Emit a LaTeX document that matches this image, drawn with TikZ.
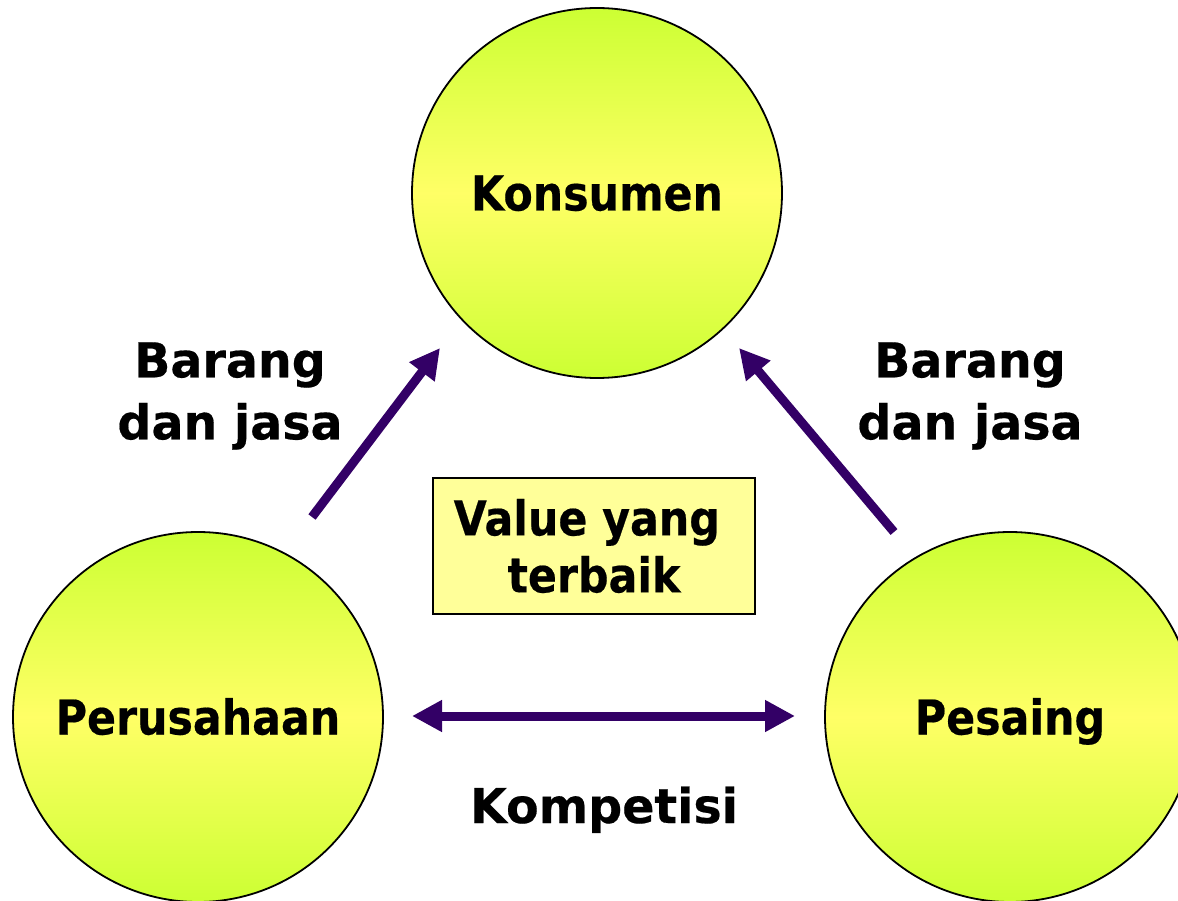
\documentclass[tikz,border=0pt]{standalone}
\usepackage{fontspec}
\setmainfont{DejaVu Sans}
\newfontfamily\condfont{DejaVu Sans}[FakeStretch=0.89, BoldFeatures={FakeBold=0.4}]
\newfontfamily\widefont{DejaVu Sans}[FakeStretch=0.99, BoldFeatures={FakeBold=0.4}]
\usetikzlibrary{arrows.meta}
\definecolor{arrowpurple}{HTML}{330066}
\definecolor{circgreen}{HTML}{CCFF33}
\definecolor{circyellow}{HTML}{FFFF66}
\definecolor{boxyellow}{HTML}{FFFF99}
\begin{document}
\begin{tikzpicture}[x=1pt,y=-1pt,
  bigcirc/.style={circle, draw=black, line width=1.8pt, minimum size=370pt, inner sep=0pt,
    top color=circgreen, bottom color=circgreen, middle color=circyellow,
    text height=35pt, text depth=0pt,
    font=\condfont\fontsize{48}{52}\selectfont\bfseries},
  lbl/.style={font=\widefont\fontsize{48}{62}\selectfont\bfseries, align=center, inner sep=0pt},
  conn/.style={draw=arrowpurple, line width=9pt},
  tip/.style={-{Triangle[length=30pt,width=30pt]}},
  tips/.style={{Triangle[length=30pt,width=30pt]}-{Triangle[length=30pt,width=30pt]}}]
\useasboundingbox (0,0) rectangle (1178,901);
\node[bigcirc] (kons) at (597,193) {Konsumen};
\node[bigcirc] (peru) at (198,717) {Perusahaan};
\node[bigcirc] (pesa) at (1010,717) {Pesaing};
\node[draw=black, line width=1.8pt, fill=boxyellow, minimum width=322pt, minimum height=136pt,
  inner sep=0pt, align=center, font=\condfont\fontsize{48}{57}\selectfont\bfseries] (val) at (594,546)
  {Value yang\hspace*{0.3em}\\terbaik};
\node[lbl] (bl) at (230,396) {Barang\\dan jasa};
\node[lbl] (br) at (970,396) {Barang\\dan jasa};
\node[lbl, anchor=base] (komp) at (604,823) {Kompetisi};
\coordinate (a1s) at (312,517);
\coordinate (a1e) at (440,348);
\coordinate (a2s) at (894,532);
\coordinate (a2e) at (739,348);
\coordinate (a3s) at (412,716);
\coordinate (a3e) at (795,716);
\draw[conn, tip] (a1s) -- (a1e);
\draw[conn, tip] (a2s) -- (a2e);
\draw[conn, tips] (a3s) -- (a3e);
\end{tikzpicture}
\end{document}
